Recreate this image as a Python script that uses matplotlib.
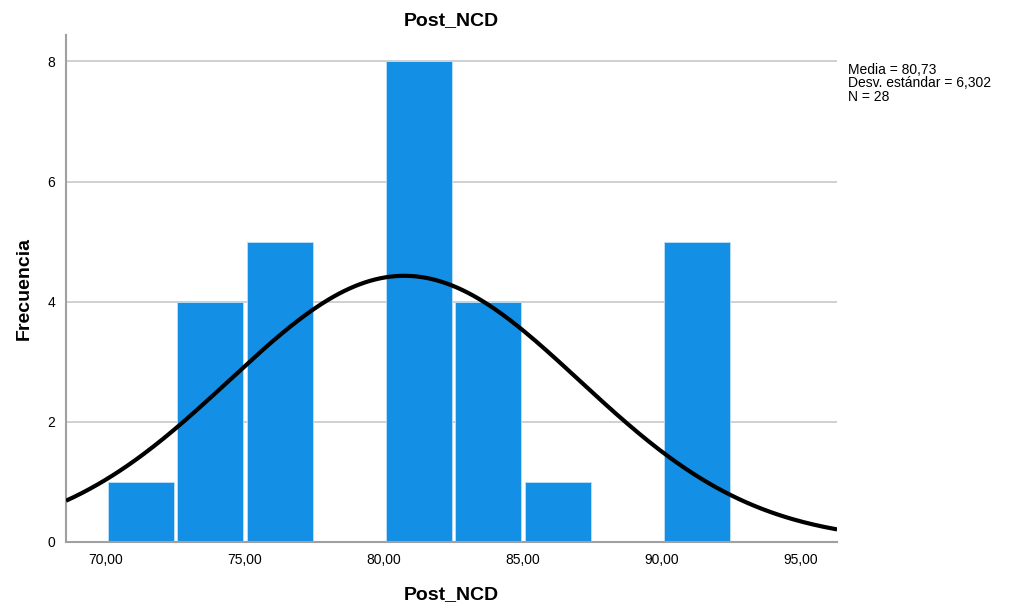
import numpy as np
import matplotlib
matplotlib.use('Agg')
import matplotlib.pyplot as plt

plt.rcParams['font.family'] = ['Liberation Sans', 'DejaVu Sans']

# Histogram bins (width 2.5) and counts
bin_edges = [70.0, 72.5, 75.0, 77.5, 80.0, 82.5, 85.0, 87.5, 90.0, 92.5]
counts = [1, 4, 5, 0, 8, 4, 1, 0, 5]

# Summary stats shown on the chart
media = 80.73
desv = 6.302
n = 28

fig = plt.figure(figsize=(10.11, 6.08), dpi=100)
ax = fig.add_axes([0.0653, 0.1086, 0.7627, 0.8338])

# leave a small white gap between neighbouring bars
gap = 0.12
lefts = np.array(bin_edges[:-1]) + gap / 2
widths = np.diff(bin_edges) - gap
ax.bar(lefts, counts, width=widths, align='edge', color='#1390E6',
       edgecolor='#bfe0f7', linewidth=0.6, zorder=2)

# Normal curve scaled to counts
xs = np.linspace(68.56, 96.3, 300)
pdf = np.exp(-0.5 * ((xs - media) / desv) ** 2) / (desv * np.sqrt(2 * np.pi))
ax.plot(xs, pdf * n * 2.5, color='black', linewidth=3, zorder=3, solid_capstyle='butt')

ax.set_xlim(68.56, 96.3)
ax.set_ylim(0, 8.44)
ax.set_xticks([70, 75, 80, 85, 90, 95])
ax.set_xticklabels(['70,00', '75,00', '80,00', '85,00', '90,00', '95,00'])
ax.set_yticks([0, 2, 4, 6, 8])
ax.tick_params(length=0, labelsize=10, pad=8)
ax.yaxis.grid(True, color='#c8c8c8', linewidth=1.2, zorder=0)
ax.set_axisbelow(True)

for s in ['top', 'right']:
    ax.spines[s].set_visible(False)
for s in ['left', 'bottom']:
    ax.spines[s].set_color('#a0a0a0')
    ax.spines[s].set_linewidth(1.5)

ax.set_title('Post_NCD', fontsize=14, fontweight='bold', pad=7)
ax.set_xlabel('Post_NCD', fontsize=14, fontweight='bold', labelpad=14)
ax.set_ylabel('Frecuencia', fontsize=14, fontweight='bold', labelpad=10)

fig.text(0.839, 0.897, 'Media = 80,73\nDesv. estándar = 6,302\nN = 28',
         fontsize=10, va='top', ha='left', linespacing=0.98)

fig.savefig('out.png', dpi=100)
